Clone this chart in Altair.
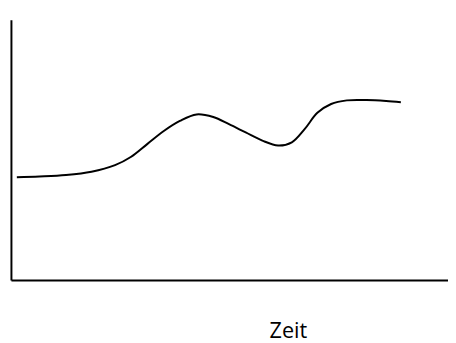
import altair as alt
import pandas as pd

# curve: horizontal position and height above the time axis
zeit = [17, 40, 67, 93, 117, 133, 150, 167, 183, 200, 217, 233, 250, 267, 283, 297, 310, 323, 337, 353, 373, 393, 408]
wert = [104.7, 105.5, 107, 110.3, 117, 125.3, 138.7, 152, 162, 168.7, 166, 158.7, 150.3, 142, 137, 140.3, 153.7, 170.3, 179.3, 183, 183.3, 182.3, 181]

df = pd.DataFrame({"zeit": zeit, "wert": wert})

chart = (
    alt.Chart(df)
    .mark_line(color="black", strokeWidth=2, interpolate="catmull-rom")
    .encode(
        x=alt.X(
            "zeit:Q",
            scale=alt.Scale(domain=[11, 456], nice=False, zero=False),
            axis=alt.Axis(
                title="Zeit",
                ticks=False,
                labels=False,
                grid=False,
                domainColor="black",
                domainWidth=2,
                titleFont="Open Sans",
                titleFontSize=22,
                titleFontWeight="normal",
                titleColor="black",
                titleX=282,
                titleY=58,
                titleAlign="center",
                titleBaseline="alphabetic",
            ),
        ),
        y=alt.Y(
            "wert:Q",
            scale=alt.Scale(domain=[0, 265], nice=False, zero=False),
            axis=alt.Axis(
                title="",
                ticks=False,
                labels=False,
                grid=False,
                domainColor="black",
                domainWidth=2,
            ),
        ),
    )
    .properties(
        width=445,
        height=265,
        autosize=alt.AutoSizeParams(type="none"),
        padding={"left": 3, "top": 9, "right": 0, "bottom": 61},
    )
    .configure_view(strokeWidth=0)
)

chart.save("out.html", embed_options={"renderer": "svg", "actions": False})
